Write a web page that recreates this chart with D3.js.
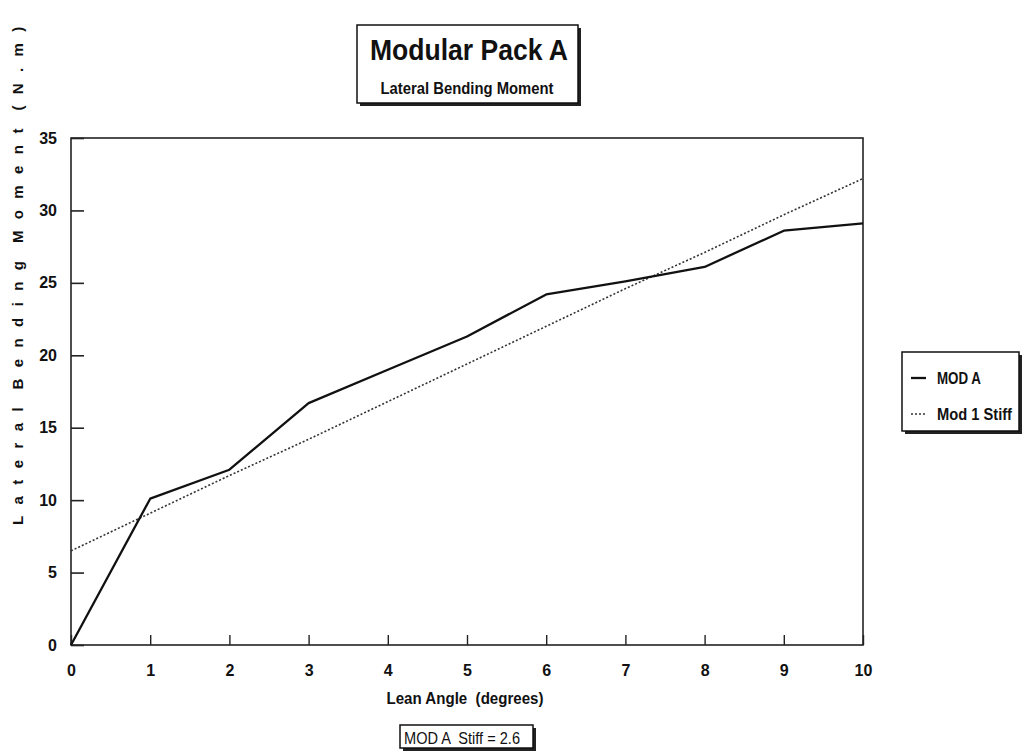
<!DOCTYPE html>
<html>
<head>
<meta charset="utf-8">
<script src="https://cdn.jsdelivr.net/npm/d3@7"></script>
<style>
  html, body { margin: 0; padding: 0; background: #fff; }
  svg { display: block; }
  .tick text { font-family: "Liberation Sans", Arial, sans-serif; font-weight: bold; font-size: 16px; fill: #111; }
  text { white-space: pre; }
</style>
</head>
<body>
<svg id="chart" width="1025" height="755"></svg>
<script>
// ---- data ----
const leanAngle = [0, 1, 2, 3, 4, 5, 6, 7, 8, 9, 10];
const modA = [0, 10.1, 12.1, 16.7, 19.0, 21.3, 24.2, 25.1, 26.1, 28.6, 29.1];
const mod1Stiff = [6.5, 9.1, 11.7, 14.2, 16.8, 19.4, 22.0, 24.6, 27.1, 29.7, 32.2];
const xTicks = [0, 1, 2, 3, 4, 5, 6, 7, 8, 9, 10];
const yTicks = [0, 5, 10, 15, 20, 25, 30, 35];
const seriesNames = ["MOD A", "Mod 1 Stiff"];
const titleText = "Modular Pack A";
const subtitleText = "Lateral Bending Moment";
const xTitle = "Lean Angle  (degrees)";
const yTitle = "Lateral Bending Moment (N.m)";
const noteText = "MOD A  Stiff = 2.6";

const svg = d3.select("#chart");
const narrow = '"Liberation Sans Narrow", "Liberation Sans", Arial, sans-serif';
const regular = '"Liberation Sans", Arial, sans-serif';

const x = d3.scaleLinear().domain([0, 10]).range([71, 863]);
const y = d3.scaleLinear().domain([0, 35]).range([645, 138]);

// frame
svg.append("rect")
  .attr("x", x(0)).attr("y", y(35))
  .attr("width", x(10) - x(0)).attr("height", y(0) - y(35))
  .attr("fill", "none").attr("stroke", "#222").attr("stroke-width", 1.6);

// axes
const yAxis = d3.axisLeft(y).tickValues(yTicks).tickSize(-13).tickPadding(14).tickFormat(d3.format("d"));
const gy = svg.append("g").attr("transform", `translate(${x(0)},0)`).call(yAxis);
gy.select(".domain").remove();
gy.selectAll(".tick line").attr("stroke", "#222").attr("stroke-width", 1.6);

const xAxis = d3.axisBottom(x).tickValues(xTicks).tickSize(-10).tickPadding(20).tickFormat(d3.format("d"));
const gx = svg.append("g").attr("transform", `translate(0,${y(0)})`).call(xAxis);
gx.select(".domain").remove();
gx.selectAll(".tick line").attr("stroke", "#222").attr("stroke-width", 1.4);

// lines
const line = (vals) => d3.line().x((d, i) => x(leanAngle[i])).y(d => y(d))(vals);
svg.append("path").attr("d", line(mod1Stiff))
  .attr("fill", "none").attr("stroke", "#333").attr("stroke-width", 1.6)
  .attr("stroke-dasharray", "2,2");
svg.append("path").attr("d", line(modA))
  .attr("fill", "none").attr("stroke", "#111").attr("stroke-width", 2.3)
  .attr("stroke-linejoin", "round");

// x title
svg.append("text").attr("x", 465).attr("y", 704).attr("text-anchor", "middle")
  .attr("font-family", narrow).attr("font-weight", "bold").attr("font-size", 17)
  .attr("textLength", 157).attr("lengthAdjust", "spacingAndGlyphs")
  .attr("fill", "#111").text(xTitle);

// y title
svg.append("text").attr("transform", "translate(23,525) rotate(-90)")
  .attr("font-family", regular).attr("font-weight", "bold").attr("font-size", 15)
  .style("letter-spacing", "11.4px").style("word-spacing", "-9px")
  .attr("fill", "#111").text(yTitle);

// boxes with shadow
function shadowBox(x0, y0, w, h) {
  svg.append("rect").attr("x", x0 + 3).attr("y", y0 + 3).attr("width", w).attr("height", h)
    .attr("fill", "#222");
  svg.append("rect").attr("x", x0).attr("y", y0).attr("width", w).attr("height", h)
    .attr("fill", "#fff").attr("stroke", "#111").attr("stroke-width", 1.5);
}

// title box
shadowBox(357, 25, 221, 78);
svg.append("text").attr("x", 469).attr("y", 60).attr("text-anchor", "middle")
  .attr("font-family", narrow).attr("font-weight", "bold").attr("font-size", 29)
  .attr("textLength", 198).attr("lengthAdjust", "spacingAndGlyphs")
  .attr("fill", "#111").text(titleText);
svg.append("text").attr("x", 467).attr("y", 94).attr("text-anchor", "middle")
  .attr("font-family", narrow).attr("font-weight", "bold").attr("font-size", 17)
  .attr("textLength", 173).attr("lengthAdjust", "spacingAndGlyphs")
  .attr("fill", "#111").text(subtitleText);

// legend
shadowBox(902, 352, 117, 79);
const legY = [378, 414];
svg.append("line").attr("x1", 911).attr("x2", 926).attr("y1", legY[0]).attr("y2", legY[0])
  .attr("stroke", "#111").attr("stroke-width", 2.3);
svg.append("line").attr("x1", 911).attr("x2", 927).attr("y1", legY[1]).attr("y2", legY[1])
  .attr("stroke", "#333").attr("stroke-width", 1.5).attr("stroke-dasharray", "2,2");
svg.append("text").attr("x", 937).attr("y", 384)
  .attr("font-family", narrow).attr("font-weight", "bold").attr("font-size", 17)
  .attr("textLength", 44).attr("lengthAdjust", "spacingAndGlyphs")
  .attr("fill", "#111").text(seriesNames[0]);
svg.append("text").attr("x", 937).attr("y", 420)
  .attr("font-family", narrow).attr("font-weight", "bold").attr("font-size", 17)
  .attr("textLength", 75).attr("lengthAdjust", "spacingAndGlyphs")
  .attr("fill", "#111").text(seriesNames[1]);

// note box
shadowBox(400, 725, 133, 23);
svg.append("text").attr("x", 404).attr("y", 744)
  .attr("font-family", narrow).attr("font-size", 17)
  .attr("textLength", 116).attr("lengthAdjust", "spacingAndGlyphs")
  .attr("fill", "#111").text(noteText);
</script>
</body>
</html>
